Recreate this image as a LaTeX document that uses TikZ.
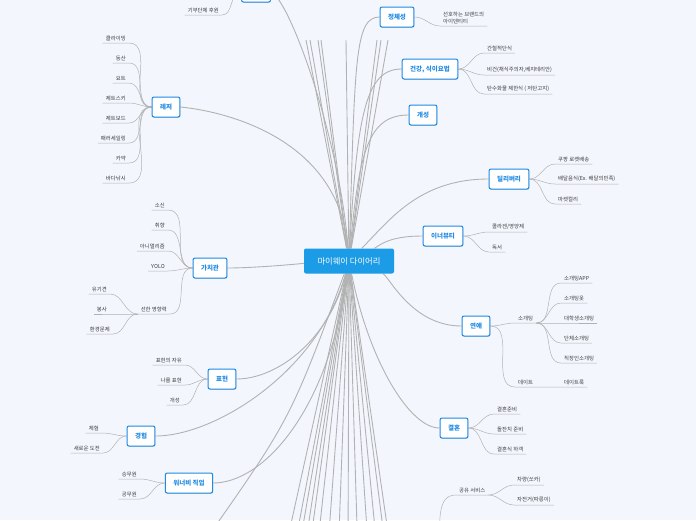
\documentclass[tikz,border=0pt]{standalone}
\usepackage{fontspec}
\setmainfont{Noto Sans CJK KR}
\usetikzlibrary{shadows}
\definecolor{paper}{RGB}{243,246,253}
\definecolor{xblue}{RGB}{30,138,229}
\definecolor{xfill}{RGB}{28,155,230}
\definecolor{xline}{RGB}{178,178,178}
\definecolor{xtext}{RGB}{60,60,60}
\pgfdeclarelayer{paperlayer}
\pgfdeclarelayer{links}
\pgfsetlayers{paperlayer,links,main}
\tikzset{
  central/.style={fill=xfill, text=white, rounded corners=2pt, minimum height=25pt,
    minimum width=90pt, inner xsep=10pt, font=\fontsize{8.3}{9}\selectfont},
  topic/.style={draw=xblue, fill=white, text=xblue, line width=1pt, rounded corners=2pt,
    minimum height=20pt, inner xsep=8pt, font=\fontsize{6.5}{8}\selectfont\bfseries,
    drop shadow={shadow xshift=0.4pt, shadow yshift=-0.9pt, opacity=0.3}},
  leaf/.style={text=xtext, inner xsep=3pt, inner ysep=2pt, font=\fontsize{5.4}{7}\selectfont},
  lleaf/.style={leaf, anchor=south east},
  rleaf/.style={leaf, anchor=south west},
  branch/.style={draw=xline, line width=0.9pt},
  twig/.style={draw=xline, line width=0.5pt}
}
\begin{document}
\begin{tikzpicture}[x=1pt,y=1pt]
%%%%% START %%%%%
\useasboundingbox (0,0) rectangle (696,-520);
\begin{pgfonlayer}{paperlayer}
\fill[paper] (0,0) rectangle (696,-520);
\end{pgfonlayer}

% centre
\node[central] (diary) at (349,-261) {마이웨이 다이어리};

% topics, right
\node[topic] (identity) at (397,-17) {정체성};
\node[topic] (health) at (430,-69) {건강, 식이요법};
\node[topic] (individuality) at (423,-115) {개성};
\node[topic] (delivery) at (509,-179) {딜리버리};
\node[topic] (innerbeauty) at (443,-236) {이너뷰티};
\node[topic] (dating) at (476,-326) {연애};
\node[topic] (marriage) at (454,-428) {결혼};

% topics, left
\node[topic, minimum width=29pt] (hidden) at (256,8) {};
\node[topic] (leisure) at (166,-107) {레저};
\node[topic] (values) at (210,-268) {가치관};
\node[topic] (expression) at (222,-379) {표현};
\node[topic] (experience) at (141,-436) {경험};
\node[topic] (dreamjob) at (189,-483) {워너비 직업};

% leaves, left
\node[lleaf] (donation) at (222,-15) {기부단체 후원};

\node[lleaf] (climbing) at (129,-43) {클라이밍};
\node[lleaf] (hiking) at (129,-63) {등산};
\node[lleaf] (yacht) at (129,-83) {요트};
\node[lleaf] (jetski) at (129,-103) {제트스키};
\node[lleaf] (jetboard) at (129,-123) {제트보드};
\node[lleaf] (parasail) at (129,-143) {패러세일링};
\node[lleaf] (kayak) at (129,-163) {카약};
\node[lleaf] (fishing) at (129,-183) {바다낚시};

\node[lleaf] (belief) at (168,-210) {소신};
\node[lleaf] (taste) at (168,-230) {취향};
\node[lleaf] (animal) at (168,-251) {아니멀리즘};
\node[lleaf] (yolo) at (168,-271) {YOLO};
\node[lleaf] (kindness) at (170,-314) {선한 영향력};
\node[lleaf] (strays) at (110,-294) {유기견};
\node[lleaf] (volunteer) at (110,-314) {봉사};
\node[lleaf] (ecology) at (113,-334) {환경문제};

\node[lleaf] (freedom) at (185,-365) {표현의 자유};
\node[lleaf] (myself) at (185,-385) {나를 표현};
\node[lleaf] (character) at (183,-405) {개성};

\node[lleaf] (trying) at (102,-433) {체험};
\node[lleaf] (challenge) at (103,-453) {새로운 도전};

\node[lleaf] (crew) at (140,-479) {승무원};
\node[lleaf] (official) at (140,-499) {공무원};

% leaves, right
\node[rleaf, align=left] (brand) at (440,-26) {선호하는 브랜드의\\아이덴티티};

\node[rleaf] (fasting) at (484,-53) {간헐적단식};
\node[rleaf] (vegan) at (484,-75) {비건(채식주의자,베지테리안)};
\node[rleaf] (lowcarb) at (484,-94) {탄수화물 제한식 ( 저탄고지)};

\node[rleaf] (rocket) at (555,-164) {쿠팡 로켓배송};
\node[rleaf] (food) at (555,-184) {배달음식(Ex. 배달의민족)};
\node[rleaf] (kurly) at (555,-204) {마켓컬리};

\node[rleaf] (collagen) at (489,-232) {콜라겐/영양제};
\node[rleaf] (reading) at (489,-252) {독서};

\node[rleaf] (blinddate) at (515,-323) {소개팅};
\node[rleaf] (app) at (561,-283) {소개팅APP};
\node[rleaf] (outfit) at (561,-303) {소개팅옷};
\node[rleaf] (campus) at (561,-323) {대학생소개팅};
\node[rleaf] (group) at (561,-343) {단체소개팅};
\node[rleaf] (office) at (561,-363) {직장인소개팅};
\node[rleaf] (date) at (515,-387) {데이트};
\node[rleaf] (datelook) at (561,-387) {데이트룩};

\node[rleaf] (wedding) at (494,-414) {결혼준비};
\node[rleaf] (firstbday) at (494,-434) {돌잔치 준비};
\node[rleaf] (guests) at (494,-454) {결혼식 하객};

\node[rleaf] (share) at (456,-495) {공유 서비스};
\node[rleaf] (socar) at (514,-485) {차량(쏘카)};
\node[rleaf] (bike) at (514,-505) {자전거(따릉이)};

% branches running off the page
\coordinate (up1) at (306,-40);
\coordinate (up2) at (310,-40);
\coordinate (up3) at (318,-40);
\coordinate (up4) at (321,-40);
\coordinate (up5) at (346,-40);
\coordinate (up6) at (377,-40);
\coordinate (up7) at (381,-40);
\coordinate (up8) at (388,-40);
\coordinate (down1) at (283,-560);
\coordinate (down2) at (292,-560);
\coordinate (down3) at (297,-560);
\coordinate (down4) at (303,-560);
\coordinate (down5) at (308,-560);
\coordinate (down6) at (316,-560);
\coordinate (down7) at (327,-560);
\coordinate (down8) at (338,-560);
\coordinate (down9) at (348,-560);
\coordinate (down10) at (358,-560);
\coordinate (down11) at (369,-560);
\coordinate (down12) at (378,-560);
\coordinate (down13) at (387,-560);
\coordinate (down14) at (392,-560);
\coordinate (lowleft) at (202,-545);
\coordinate (sharehub) at (438,-545);

\begin{pgfonlayer}{links}
% main branches
\draw[branch] (diary) .. controls (340,-140) and (290,0) .. (hidden.east);
\draw[branch] (diary) .. controls +(-10,120) and +(50,-5) .. (leisure.east);
\draw[branch] (diary) .. controls +(-40,-2) and +(30,0) .. (values.east);
\draw[branch] (diary) .. controls +(-20,-80) and +(40,0) .. (expression.east);
\draw[branch] (diary) .. controls +(-30,-110) and +(60,0) .. (experience.east);
\draw[branch] (diary) .. controls +(-20,-150) and +(50,0) .. (dreamjob.east);
\draw[branch] (diary) .. controls (290,-420) .. (lowleft);
\draw[branch] (diary) .. controls +(6,200) and +(-25,0) .. (identity.west);
\draw[branch] (diary) .. controls +(8,150) and +(-35,0) .. (health.west);
\draw[branch] (diary) .. controls +(10,110) and +(-40,0) .. (individuality.west);
\draw[branch] (diary) .. controls +(40,40) and +(-70,0) .. (delivery.west);
\draw[branch] (diary) .. controls +(30,15) and +(-35,0) .. (innerbeauty.west);
\draw[branch] (diary) .. controls +(40,-15) and +(-50,0) .. (dating.west);
\draw[branch] (diary) .. controls +(20,-100) and +(-30,0) .. (marriage.west);

\draw[branch] (diary) -- (up1);
\draw[branch] (diary) -- (up2);
\draw[branch] (diary) -- (up3);
\draw[branch] (diary) -- (up4);
\draw[branch] (diary) -- (up5);
\draw[branch] (diary) -- (up6);
\draw[branch] (diary) -- (up7);
\draw[branch] (diary) -- (up8);
\draw[branch] (diary) -- (down1);
\draw[branch] (diary) -- (down2);
\draw[branch] (diary) -- (down3);
\draw[branch] (diary) -- (down4);
\draw[branch] (diary) -- (down5);
\draw[branch] (diary) -- (down6);
\draw[branch] (diary) -- (down7);
\draw[branch] (diary) -- (down8);
\draw[branch] (diary) -- (down9);
\draw[branch] (diary) -- (down10);
\draw[branch] (diary) -- (down11);
\draw[branch] (diary) -- (down12);
\draw[branch] (diary) -- (down13);
\draw[branch] (diary) -- (down14);

% twigs, left
\draw[twig] (hidden.west) to[out=180,in=0] (donation.south east) -- (donation.south west);

\draw[twig] (leisure.west) to[out=180,in=0] (climbing.south east) -- (climbing.south west);
\draw[twig] (leisure.west) to[out=180,in=0] (hiking.south east) -- (hiking.south west);
\draw[twig] (leisure.west) to[out=180,in=0] (yacht.south east) -- (yacht.south west);
\draw[twig] (leisure.west) to[out=180,in=0] (jetski.south east) -- (jetski.south west);
\draw[twig] (leisure.west) to[out=180,in=0] (jetboard.south east) -- (jetboard.south west);
\draw[twig] (leisure.west) to[out=180,in=0] (parasail.south east) -- (parasail.south west);
\draw[twig] (leisure.west) to[out=180,in=0] (kayak.south east) -- (kayak.south west);
\draw[twig] (leisure.west) to[out=180,in=0] (fishing.south east) -- (fishing.south west);

\draw[twig] (values.west) to[out=180,in=0] (belief.south east) -- (belief.south west);
\draw[twig] (values.west) to[out=180,in=0] (taste.south east) -- (taste.south west);
\draw[twig] (values.west) to[out=180,in=0] (animal.south east) -- (animal.south west);
\draw[twig] (values.west) to[out=180,in=0] (yolo.south east) -- (yolo.south west);
\draw[twig] (values.west) to[out=180,in=0] (kindness.south east) -- (kindness.south west);
\draw[twig] (kindness.south west) to[out=180,in=0] (strays.south east) -- (strays.south west);
\draw[twig] (kindness.south west) to[out=180,in=0] (volunteer.south east) -- (volunteer.south west);
\draw[twig] (kindness.south west) to[out=180,in=0] (ecology.south east) -- (ecology.south west);

\draw[twig] (expression.west) to[out=180,in=0] (freedom.south east) -- (freedom.south west);
\draw[twig] (expression.west) to[out=180,in=0] (myself.south east) -- (myself.south west);
\draw[twig] (expression.west) to[out=180,in=0] (character.south east) -- (character.south west);

\draw[twig] (experience.west) to[out=180,in=0] (trying.south east) -- (trying.south west);
\draw[twig] (experience.west) to[out=180,in=0] (challenge.south east) -- (challenge.south west);

\draw[twig] (dreamjob.west) to[out=180,in=0] (crew.south east) -- (crew.south west);
\draw[twig] (dreamjob.west) to[out=180,in=0] (official.south east) -- (official.south west);

% twigs, right
\draw[twig] (identity.east) to[out=0,in=180] (brand.south west) -- (brand.south east);

\draw[twig] (health.east) to[out=0,in=180] (fasting.south west) -- (fasting.south east);
\draw[twig] (health.east) to[out=0,in=180] (vegan.south west) -- (vegan.south east);
\draw[twig] (health.east) to[out=0,in=180] (lowcarb.south west) -- (lowcarb.south east);

\draw[twig] (delivery.east) to[out=0,in=180] (rocket.south west) -- (rocket.south east);
\draw[twig] (delivery.east) to[out=0,in=180] (food.south west) -- (food.south east);
\draw[twig] (delivery.east) to[out=0,in=180] (kurly.south west) -- (kurly.south east);

\draw[twig] (innerbeauty.east) to[out=0,in=180] (collagen.south west) -- (collagen.south east);
\draw[twig] (innerbeauty.east) to[out=0,in=180] (reading.south west) -- (reading.south east);

\draw[twig] (dating.east) to[out=0,in=180] (blinddate.south west) -- (blinddate.south east);
\draw[twig] (blinddate.south east) to[out=0,in=180] (app.south west) -- (app.south east);
\draw[twig] (blinddate.south east) to[out=0,in=180] (outfit.south west) -- (outfit.south east);
\draw[twig] (blinddate.south east) -- (campus.south west) -- (campus.south east);
\draw[twig] (blinddate.south east) to[out=0,in=180] (group.south west) -- (group.south east);
\draw[twig] (blinddate.south east) to[out=0,in=180] (office.south west) -- (office.south east);
\draw[twig] (dating.east) to[out=0,in=180] (date.south west) -- (date.south east) -- (datelook.south west) -- (datelook.south east);

\draw[twig] (marriage.east) to[out=0,in=180] (wedding.south west) -- (wedding.south east);
\draw[twig] (marriage.east) to[out=0,in=180] (firstbday.south west) -- (firstbday.south east);
\draw[twig] (marriage.east) to[out=0,in=180] (guests.south west) -- (guests.south east);

\draw[twig] (sharehub) to[out=80,in=180] (share.south west) -- (share.south east);
\draw[twig] (share.south east) to[out=0,in=180] (socar.south west) -- (socar.south east);
\draw[twig] (share.south east) to[out=0,in=180] (bike.south west) -- (bike.south east);
\end{pgfonlayer}
%%%%% END %%%%%
\end{tikzpicture}
\end{document}
